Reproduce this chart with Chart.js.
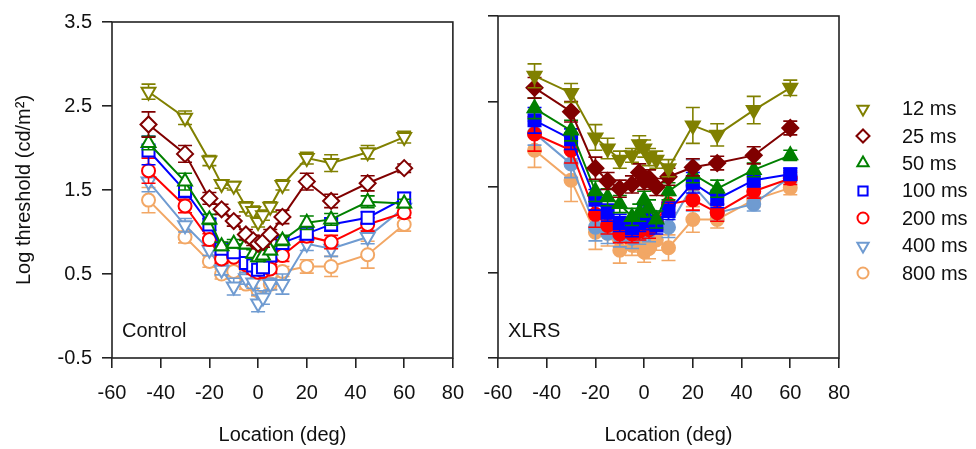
<!DOCTYPE html>
<html lang="en">
<head>
<meta charset="UTF-8" />
<title>Log threshold by location</title>
<style>
  body { margin: 0; background: #fff; font-family: 'Liberation Sans', Arial, sans-serif; color: #111; }
  #wrap { position: relative; width: 976px; height: 449px; }
  #leftChart { position: absolute; left: 0; top: 0; }
  #rightChart { position: absolute; left: 470px; top: 0; }
  .tag { position: absolute; font-size: 20px; line-height: 24px; }
  #legend { position: absolute; left: 850px; top: 95px; }
  .item { display: flex; align-items: center; height: 27.4px; font-size: 20px; }
  .item canvas { margin-right: 26px; }
</style>
</head>
<body>
<div id="wrap">
  <canvas id="leftChart" width="470" height="449"></canvas>
  <canvas id="rightChart" width="390" height="449"></canvas>
  <div class="tag" style="left:122px; top:318px;">Control</div>
  <div class="tag" style="left:508px; top:318px;">XLRS</div>
  <div id="legend"></div>
</div>

<script src="https://cdn.jsdelivr.net/npm/chart.js"></script>
<script>
  // eccentricity of each test location (deg)
  const locations = [-45, -30, -20, -15, -10, -5, -2, 0, 2, 5, 10, 20, 30, 45, 60];
  const durations = ['12 ms', '25 ms', '50 ms', '100 ms', '200 ms', '400 ms', '800 ms'];
  const xTicks = [-60, -40, -20, 0, 20, 40, 60, 80];
  const yTicks = [-0.5, 0.5, 1.5, 2.5, 3.5];

  // Control group, mean log threshold
  const ctl12  = [2.67, 2.36, 1.85, 1.57, 1.55, 1.30, 1.25, 1.12, 1.20, 1.30, 1.56, 1.88, 1.82, 1.95, 2.13];
  const ctl25  = [2.28, 1.93, 1.40, 1.27, 1.13, 0.97, 0.90, 0.86, 0.88, 0.97, 1.18, 1.60, 1.37, 1.58, 1.76];
  const ctl50  = [2.06, 1.60, 1.15, 0.83, 0.86, 0.85, 0.74, 0.70, 0.72, 0.78, 0.90, 1.11, 1.15, 1.36, 1.34];
  const ctl100 = [1.97, 1.49, 1.09, 0.80, 0.76, 0.63, 0.60, 0.55, 0.58, 0.72, 0.87, 0.98, 1.09, 1.17, 1.40];
  const ctl200 = [1.73, 1.31, 0.91, 0.68, 0.70, 0.61, 0.55, 0.52, 0.53, 0.56, 0.72, 0.95, 0.88, 1.09, 1.23];
  const ctl400 = [1.60, 1.08, 0.79, 0.55, 0.35, 0.45, 0.40, 0.15, 0.22, 0.38, 0.38, 0.86, 0.80, 0.94, 1.29];
  const ctl800 = [1.38, 0.94, 0.65, 0.50, 0.53, 0.38, 0.38, 0.30, 0.36, 0.38, 0.53, 0.59, 0.59, 0.73, 1.09];

  // Control group, error bar half-lengths
  const ctlErr12  = [0.09, 0.08, 0.06, 0.05, 0.05, 0.06, 0.06, 0.06, 0.06, 0.06, 0.06, 0.07, 0.10, 0.08, 0.07];
  const ctlErr25  = [0.15, 0.10, 0.07, 0.06, 0.06, 0.06, 0.06, 0.06, 0.06, 0.06, 0.08, 0.10, 0.08, 0.09, 0.05];
  const ctlErr50  = [0.08, 0.10, 0.06, 0.05, 0.05, 0.05, 0.05, 0.05, 0.05, 0.05, 0.06, 0.08, 0.07, 0.07, 0.05];
  const ctlErr100 = [0.17, 0.08, 0.07, 0.05, 0.05, 0.05, 0.05, 0.05, 0.05, 0.06, 0.07, 0.07, 0.08, 0.07, 0.07];
  const ctlErr200 = [0.15, 0.08, 0.07, 0.05, 0.05, 0.05, 0.05, 0.05, 0.05, 0.05, 0.07, 0.07, 0.08, 0.08, 0.06];
  const ctlErr400 = [0.12, 0.08, 0.07, 0.06, 0.10, 0.07, 0.07, 0.10, 0.08, 0.07, 0.12, 0.08, 0.09, 0.08, 0.06];
  const ctlErr800 = [0.15, 0.07, 0.07, 0.06, 0.05, 0.06, 0.06, 0.06, 0.06, 0.06, 0.06, 0.08, 0.12, 0.16, 0.08];

  // XLRS group, mean log threshold
  const xl12  = [2.80, 2.60, 2.08, 1.95, 1.82, 1.87, 2.00, 1.95, 1.85, 1.82, 1.72, 2.22, 2.11, 2.40, 2.66];
  const xl25  = [2.66, 2.38, 1.72, 1.57, 1.48, 1.53, 1.67, 1.57, 1.60, 1.50, 1.62, 1.73, 1.78, 1.87, 2.19];
  const xl50  = [2.42, 2.16, 1.45, 1.38, 1.30, 1.15, 1.20, 1.35, 1.25, 1.12, 1.45, 1.65, 1.48, 1.70, 1.87];
  const xl100 = [2.28, 2.06, 1.35, 1.20, 1.08, 1.02, 1.08, 1.18, 1.10, 1.05, 1.22, 1.55, 1.36, 1.58, 1.65];
  const xl200 = [2.12, 1.93, 1.18, 1.05, 0.95, 0.95, 0.98, 1.10, 1.00, 1.10, 1.30, 1.35, 1.20, 1.45, 1.60];
  const xl400 = [2.13, 1.77, 1.03, 0.96, 0.92, 0.90, 0.95, 1.00, 0.98, 1.10, 1.03, 1.52, 1.20, 1.30, 1.62];
  const xl800 = [1.93, 1.58, 0.97, 0.96, 0.76, 0.82, 0.86, 0.74, 0.78, 0.88, 0.79, 1.12, 1.12, 1.35, 1.49];

  // XLRS group, error bar half-lengths
  const xlErr12  = [0.14, 0.11, 0.15, 0.12, 0.10, 0.08, 0.10, 0.10, 0.10, 0.10, 0.10, 0.21, 0.13, 0.16, 0.09];
  const xlErr25  = [0.12, 0.12, 0.13, 0.10, 0.10, 0.10, 0.10, 0.10, 0.10, 0.10, 0.10, 0.10, 0.08, 0.10, 0.08];
  const xlErr50  = [0.12, 0.12, 0.12, 0.10, 0.10, 0.10, 0.10, 0.10, 0.10, 0.10, 0.10, 0.10, 0.10, 0.08, 0.06];
  const xlErr100 = [0.15, 0.12, 0.12, 0.10, 0.10, 0.10, 0.10, 0.10, 0.10, 0.10, 0.10, 0.12, 0.10, 0.08, 0.07];
  const xlErr200 = [0.20, 0.15, 0.15, 0.10, 0.10, 0.10, 0.10, 0.10, 0.10, 0.10, 0.10, 0.12, 0.10, 0.08, 0.07];
  const xlErr400 = [0.14, 0.16, 0.16, 0.12, 0.12, 0.12, 0.12, 0.12, 0.12, 0.12, 0.12, 0.30, 0.10, 0.08, 0.07];
  const xlErr800 = [0.20, 0.25, 0.20, 0.15, 0.15, 0.12, 0.12, 0.12, 0.12, 0.12, 0.15, 0.15, 0.10, 0.08, 0.08];

  const colors = ['#808000', '#800000', '#008000', '#0000ff', '#ff0000', '#6f9bd1', '#f2a765'];
  const shapes = ['triangle', 'rectRot', 'triangle', 'rect', 'circle', 'triangle', 'circle'];
  const turns  = [180, 0, 0, 0, 0, 180, 0];
  const sizes  = [8, 8, 8, 8.5, 6.5, 8, 6.5];

  Chart.defaults.font.family = "'Liberation Sans', Arial, sans-serif";
  Chart.defaults.color = '#111';

  // draws the box around the plot area
  const frame = {
    id: 'frame',
    afterDraw(chart) {
      const { ctx, chartArea: a } = chart;
      ctx.save();
      ctx.strokeStyle = '#222';
      ctx.lineWidth = 1.6;
      ctx.strokeRect(a.left, a.top, a.right - a.left, a.bottom - a.top);
      ctx.restore();
    }
  };

  // error bars, drawn just before each dataset so they sit behind its markers
  const errorBars = {
    id: 'errorBars',
    beforeDatasetDraw(chart, args) {
      const ds = chart.data.datasets[args.index];
      const xs = chart.scales.x, ys = chart.scales.y, ctx = chart.ctx;
      ctx.save();
      ctx.strokeStyle = ds.borderColor;
      ctx.lineWidth = 1.6;
      ds.data.forEach((p, i) => {
        const px = xs.getPixelForValue(p.x);
        const hi = ys.getPixelForValue(p.y + ds.err[i]);
        const lo = ys.getPixelForValue(p.y - ds.err[i]);
        ctx.beginPath();
        ctx.moveTo(px, hi); ctx.lineTo(px, lo);
        ctx.moveTo(px - 7, hi); ctx.lineTo(px + 7, hi);
        ctx.moveTo(px - 7, lo); ctx.lineTo(px + 7, lo);
        ctx.stroke();
      });
      ctx.restore();
    }
  };

  function makeSets(series, errs, filled, shapeList) {
    return series.map((vals, k) => ({
      label: durations[k],
      data: vals.map((v, i) => ({ x: locations[i], y: v })),
      err: errs[k],
      borderColor: colors[k],
      backgroundColor: colors[k],
      borderWidth: 2,
      pointStyle: shapeList[k],
      pointRotation: shapeList[k] === 'triangle' ? turns[k] : 0,
      pointRadius: shapeList[k] === 'circle' ? 6.5 : sizes[k],
      pointBorderWidth: 2,
      pointBackgroundColor: filled ? colors[k] : '#fff',
      pointBorderColor: colors[k]
    }));
  }

  function makeOptions(showYLabels, yWidth, padRight) {
    return {
      responsive: false,
      animation: false,
      layout: { padding: { top: 16, right: padRight, left: 0, bottom: 0 } },
      plugins: { legend: { display: false }, tooltip: { enabled: false } },
      scales: {
        x: {
          type: 'linear', min: -60, max: 80,
          afterBuildTicks: s => { s.ticks = xTicks.map(v => ({ value: v })); },
          afterFit: s => { s.height = 91; },
          border: { display: false },
          grid: { drawOnChartArea: false, tickLength: 10, tickColor: '#222', lineWidth: 1.6 },
          ticks: { font: { size: 20, lineHeight: 1.9 }, padding: 6, maxRotation: 0, autoSkip: false, callback: v => String(v) },
          title: { display: true, text: 'Location (deg)', font: { size: 20 }, padding: { top: 0, bottom: 2 } }
        },
        y: {
          type: 'linear', min: -0.5, max: 3.5,
          afterBuildTicks: s => { s.ticks = yTicks.map(v => ({ value: v })); },
          afterFit: s => { s.width = yWidth; },
          border: { display: false },
          grid: { drawOnChartArea: false, tickLength: 10, tickColor: '#222', lineWidth: 1.6 },
          ticks: { display: showYLabels, font: { size: 20 }, padding: 10, callback: v => v.toFixed(1) },
          title: { display: showYLabels, text: 'Log threshold (cd/m²)', font: { size: 20 }, padding: { top: 12, bottom: 0 } }
        }
      }
    };
  }

  new Chart(document.getElementById('leftChart'), {
    type: 'line',
    data: {
      datasets: makeSets([ctl12, ctl25, ctl50, ctl100, ctl200, ctl400, ctl800],
        [ctlErr12, ctlErr25, ctlErr50, ctlErr100, ctlErr200, ctlErr400, ctlErr800], false, shapes)
    },
    options: makeOptions(true, 112, 15),
    plugins: [errorBars, frame]
  });

  // in the XLRS panel the 400 ms series is drawn with circles
  const xlShapes = shapes.slice();
  xlShapes[5] = 'circle';

  new Chart(document.getElementById('rightChart'), {
    type: 'line',
    data: {
      datasets: makeSets([xl12, xl25, xl50, xl100, xl200, xl400, xl800],
        [xlErr12, xlErr25, xlErr50, xlErr100, xlErr200, xlErr400, xlErr800], true, xlShapes)
    },
    options: makeOptions(false, 28, 21),
    plugins: [errorBars, frame]
  });

  // legend with hollow markers
  const legend = document.getElementById('legend');
  durations.forEach((name, k) => {
    const row = document.createElement('div');
    row.className = 'item';
    const c = document.createElement('canvas');
    c.width = 26; c.height = 20;
    const ctx = c.getContext('2d');
    ctx.strokeStyle = colors[k];
    ctx.fillStyle = 'rgba(0,0,0,0)';
    ctx.lineWidth = 2;
    Chart.helpers.drawPoint(ctx, {
      pointStyle: shapes[k], rotation: turns[k],
      radius: shapes[k] === 'circle' ? 5.5 : 6.5, borderWidth: 2
    }, 13, 10);
    row.appendChild(c);
    row.appendChild(document.createTextNode(name));
    legend.appendChild(row);
  });
</script>
</body>
</html>
